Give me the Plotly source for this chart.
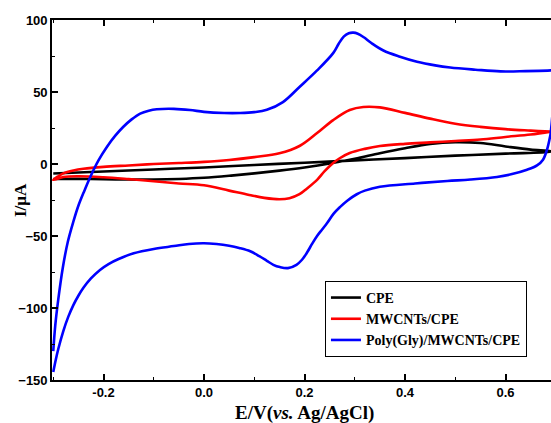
import plotly.graph_objects as go

# ---------------- data ----------------
# CPE (black)
cpe_fwd_E = [-0.3, -0.25, -0.2, -0.15, -0.1, -0.05, 0.0, 0.05, 0.1, 0.15, 0.2, 0.25, 0.3,
             0.35, 0.4, 0.45, 0.5, 0.55, 0.6, 0.65, 0.69]
cpe_fwd_I = [-10.4, -10.3, -10.5, -10.8, -10.8, -10.4, -9.6, -8.2, -6.5, -4.6, -2.4, 0.3, 3.6,
             7.5, 11.0, 14.0, 15.2, 14.6, 12.2, 10.0, 8.8]
cpe_rev_E = [0.69, 0.6, 0.5, 0.4, 0.3, 0.2, 0.1, 0.0, -0.1, -0.2, -0.3]
cpe_rev_I = [8.6, 7.2, 5.8, 4.1, 2.5, 0.9, -0.7, -2.4, -3.8, -5.2, -6.6]

# MWCNTs/CPE (red)
mw_fwd_E = [-0.3, -0.29, -0.28, -0.26, -0.24, -0.2, -0.15, -0.1, -0.05, 0.0, 0.05, 0.1, 0.15,
            0.19, 0.225, 0.257, 0.29, 0.317, 0.35, 0.4, 0.45, 0.5, 0.55, 0.6, 0.65, 0.69]
mw_fwd_I = [-11.0, -8.5, -6.5, -4.5, -3.3, -2.0, -1.0, 0.0, 0.7, 1.5, 2.8, 4.8, 7.4,
            12.5, 21.5, 30.5, 37.5, 39.6, 39.3, 35.5, 31.5, 28.0, 25.8, 24.2, 23.2, 22.5]
mw_rev_E = [0.69, 0.65, 0.6, 0.55, 0.5, 0.45, 0.4, 0.35, 0.32, 0.29, 0.27, 0.257, 0.24, 0.225,
            0.205, 0.19, 0.17, 0.15, 0.12, 0.09, 0.05, 0.0, -0.05, -0.1, -0.15, -0.2, -0.25,
            -0.28, -0.3]
mw_rev_I = [22.5, 20.5, 18.8, 17.0, 16.0, 15.0, 14.0, 12.5, 10.5, 7.6, 4.0, 0.7, -5.0, -11.0,
            -17.0, -21.0, -23.8, -24.5, -23.5, -21.5, -18.5, -14.8, -13.5, -12.0, -10.5, -9.2,
            -8.5, -9.0, -11.0]

# Poly(Gly)/MWCNTs/CPE (blue)
pg_fwd_E = [-0.3, -0.296, -0.29, -0.281, -0.271, -0.26, -0.25, -0.238, -0.227, -0.21, -0.193,
            -0.177, -0.161, -0.144, -0.127, -0.11, -0.094, -0.06, -0.028, 0.0, 0.04, 0.072, 0.1,
            0.125, 0.157, 0.19, 0.225, 0.257, 0.268, 0.278, 0.288, 0.297, 0.306, 0.318, 0.333,
            0.357, 0.39, 0.424, 0.46, 0.49, 0.54, 0.59, 0.64, 0.69, 0.695]
pg_fwd_I = [-130.0, -112.0, -94.0, -72.0, -54.0, -40.0, -29.0, -18.5, -9.5, 2.5, 12.0,
            19.5, 25.7, 31.0, 35.0, 37.0, 38.0, 38.3, 37.5, 36.2, 35.4, 35.4, 36.0,
            37.6, 43.0, 53.5, 65.0, 77.0, 83.5, 88.5, 90.8, 91.2, 90.5, 88.0, 84.0,
            78.8, 74.5, 71.0, 68.5, 67.0, 65.5, 64.3, 64.5, 65.0, 65.2]
pg_rev_E = [0.695, 0.69, 0.6886, 0.6826, 0.6746, 0.6627, 0.6428, 0.613, 0.583, 0.53, 0.484,
            0.42, 0.35, 0.32, 0.304, 0.285, 0.271, 0.258, 0.245, 0.235, 0.225, 0.215, 0.205,
            0.195, 0.184, 0.167, 0.151, 0.138, 0.125, 0.11, 0.092, 0.07, 0.05, 0.025, 0.0,
            -0.03, -0.06, -0.1, -0.14, -0.17, -0.19, -0.207, -0.225, -0.24, -0.25, -0.26, -0.27,
            -0.28, -0.29, -0.295, -0.3]
pg_rev_I = [45.0, 22.0, 19.0, 10.0, 3.0, -1.0, -4.0, -7.0, -9.0, -10.8, -11.8,
            -13.5, -15.8, -18.5, -21.0, -25.5, -29.8, -34.5, -41.0, -45.5, -50.0, -55.5, -61.5,
            -66.5, -70.0, -72.3, -71.6, -70.0, -67.2, -64.0, -60.6, -58.3, -56.8, -55.6, -55.0,
            -55.5, -57.0, -59.0, -62.0, -66.0, -69.5, -73.6, -79.5, -86.0, -91.5, -98.0, -106.0,
            -116.0, -128.5, -136.0, -144.5]

series_names = ["CPE", "MWCNTs/CPE", "Poly(Gly)/MWCNTs/CPE"]
series_colors = ["#000000", "#ff0000", "#0000ff"]

x_ticks = [-0.2, 0.0, 0.2, 0.4, 0.6]
y_ticks = [-150, -100, -50, 0, 50, 100]

# ---------------- figure ----------------
curves = [
    (cpe_fwd_E + cpe_rev_E, cpe_fwd_I + cpe_rev_I),
    (mw_fwd_E + mw_rev_E, mw_fwd_I + mw_rev_I),
    (pg_fwd_E + pg_rev_E, pg_fwd_I + pg_rev_I),
]

fig = go.Figure()
for (xs, ys), name, col in zip(curves, series_names, series_colors):
    fig.add_trace(go.Scatter(x=xs, y=ys, mode="lines", name=name,
                             line=dict(color=col, width=2.6, shape="spline", smoothing=1.0)))

tickfont = dict(family="Liberation Sans, Arial", size=13, color="black", weight="bold")
serif = "Liberation Serif, Times New Roman"

fig.update_layout(
    width=551, height=423,
    margin=dict(l=52, r=0, t=20, b=43),
    paper_bgcolor="white", plot_bgcolor="white",
    showlegend=True,
    legend=dict(
        x=0.547, y=0.064, xanchor="left", yanchor="bottom",
        bgcolor="white", bordercolor="black", borderwidth=1,
        font=dict(family=serif, size=14, color="black", weight="bold"),
        tracegroupgap=0,
    ),
    xaxis=dict(
        range=[-0.3025, 0.6905],
        tickmode="array", tickvals=x_ticks, ticktext=["%.1f" % v for v in x_ticks],
        ticks="inside", ticklen=6, tickwidth=1.5, tickcolor="black",
        minor=dict(dtick=0.1, tick0=0, ticks="inside", ticklen=3, tickwidth=1.2, tickcolor="black"),
        showline=True, linewidth=1.6, linecolor="black", mirror="ticks",
        showgrid=False, zeroline=False,
        tickfont=tickfont, ticklabelstandoff=0,
    ),
    yaxis=dict(
        range=[-150, 100],
        tickmode="array", tickvals=y_ticks,
        ticks="inside", ticklen=6, tickwidth=1.5, tickcolor="black",
        minor=dict(dtick=25, tick0=0, ticks="inside", ticklen=3, tickwidth=1.2, tickcolor="black"),
        showline=True, linewidth=1.6, linecolor="black",
        showgrid=False, zeroline=False,
        tickfont=tickfont,
    ),
    annotations=[
        dict(text="<b>E/V(<i>vs.</i> Ag/AgCl)</b>", xref="paper", yref="paper",
             x=0.506, y=-0.0917, xanchor="center", yanchor="middle", showarrow=False,
             font=dict(family=serif, size=19, color="black")),
        dict(text="<b>I/μA</b>", xref="paper", yref="paper",
             x=-0.064, y=0.5, xanchor="center", yanchor="middle", showarrow=False,
             textangle=-90, font=dict(family=serif, size=17, color="black")),
    ],
)

fig.write_html("out.html")
